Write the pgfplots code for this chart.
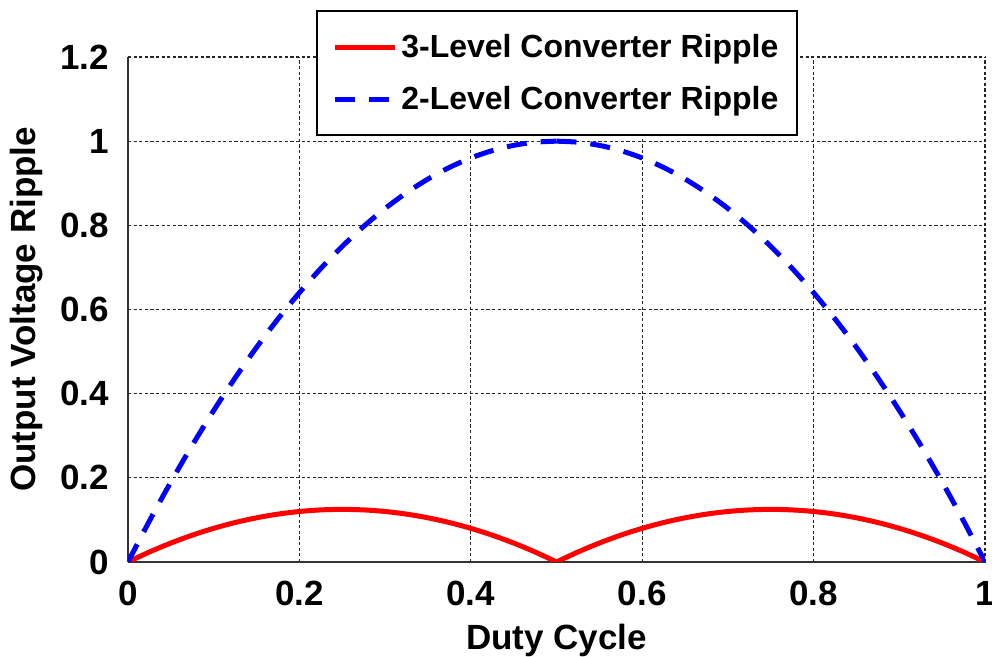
\documentclass[border=0pt]{standalone}
\usepackage{pgfplots}
\pgfplotsset{compat=1.18}
\usepackage{fontspec}
\setmainfont{Liberation Sans}

% ripple vs duty cycle
\pgfplotstableread{
D      three     two
0      0         0
0.025  0.02375   0.0975
0.05   0.045     0.19
0.075  0.06375   0.2775
0.1    0.08      0.36
0.125  0.09375   0.4375
0.15   0.105     0.51
0.175  0.11375   0.5775
0.2    0.12      0.64
0.225  0.12375   0.6975
0.25   0.125     0.75
0.275  0.12375   0.7975
0.3    0.12      0.84
0.325  0.11375   0.8775
0.35   0.105     0.91
0.375  0.09375   0.9375
0.4    0.08      0.96
0.425  0.06375   0.9775
0.45   0.045     0.99
0.475  0.02375   0.9975
0.5    0         1
}\lefthalf
\pgfplotstableread{
D      three     two
0.5    0         1
0.525  0.02375   0.9975
0.55   0.045     0.99
0.575  0.06375   0.9775
0.6    0.08      0.96
0.625  0.09375   0.9375
0.65   0.105     0.91
0.675  0.11375   0.8775
0.7    0.12      0.84
0.725  0.12375   0.7975
0.75   0.125     0.75
0.775  0.12375   0.6975
0.8    0.12      0.64
0.825  0.11375   0.5775
0.85   0.105     0.51
0.875  0.09375   0.4375
0.9    0.08      0.36
0.925  0.06375   0.2775
0.95   0.045     0.19
0.975  0.02375   0.0975
1      0         0
}\righthalf

\begin{document}
\begin{tikzpicture}
\begin{axis}[
  scale only axis,
  width=428.5pt, height=252.5pt,
  xmin=0, xmax=1, ymin=0, ymax=1.2,
  xtick={0,0.2,...,1}, ytick={0,0.2,...,1.2},
  axis x line*=bottom, axis y line*=left,
  axis line style={-, line width=1pt, black!80},
  major tick length=0pt,
  grid=major,
  grid style={black!85, line width=0.6pt, dash pattern=on 1.6pt off 1.2pt},
  font=\fontsize{17.5}{21}\selectfont\bfseries,
  /pgf/number format/assume math mode=true,
  ticklabel style={font=\fontsize{17.5}{21}\selectfont\bfseries},
  xticklabel style={yshift=-6pt},
  yticklabel style={xshift=-6pt},
  xlabel={Duty Cycle}, ylabel={Output Voltage Ripple},
  x label style={at={(axis description cs:0.5,-0.174)}, anchor=base},
  y label style={at={(axis description cs:-0.118,0.5)}, anchor=center},
  legend style={at={(0.501,1.093)}, anchor=north, draw=black, line width=1pt,
    fill=white, font=\fontsize{16}{19}\selectfont\bfseries,
    inner xsep=7.5pt, inner ysep=9.5pt, row sep=9pt},
  legend cell align=left,
  legend image code/.code={\draw[#1] (0pt,0pt) -- (30pt,0pt);},
]
\coordinate (bl) at (rel axis cs:0,0);
\coordinate (tr) at (rel axis cs:1,1);
\addplot[red, line width=2.5pt, smooth] table[x=D, y=three] {\lefthalf};
\addlegendentry{3-Level Converter Ripple}
\addplot[blue, line width=2.5pt, dash pattern=on 10pt off 7pt, smooth] table[x=D, y=two] {\lefthalf};
\addlegendentry{2-Level Converter Ripple}
\addplot[red, line width=2.5pt, smooth, forget plot] table[x=D, y=three] {\righthalf};
\addplot[blue, line width=2.5pt, dash pattern=on 10pt off 7pt, dash phase=0pt, smooth, forget plot] table[x=D, y=two] {\righthalf};
\end{axis}
\pgfresetboundingbox
\path ([shift={(-64pt,-47.5pt)}]bl) rectangle ([shift={(3.5pt,28.5pt)}]tr);
\end{tikzpicture}
\end{document}
